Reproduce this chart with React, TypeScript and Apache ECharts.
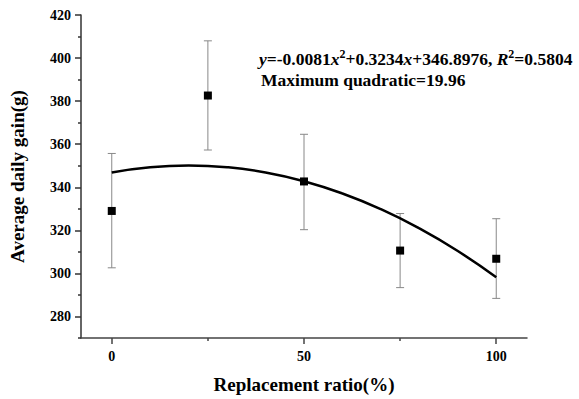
import React, { useEffect, useRef } from "react";
import * as echarts from "echarts";

const ratios = [0, 25, 50, 75, 100];
const gainMeans = [329.0, 382.6, 342.7, 310.6, 306.8];
const gainLow = [302.6, 357.3, 320.3, 293.4, 288.4];
const gainHigh = [355.7, 408.0, 364.6, 327.8, 325.4];

const fitX = [0, 10, 20, 30, 40, 50, 60, 70, 80, 90, 100];
const fitY = [346.9, 349.3, 350.1, 349.3, 346.9, 342.8, 337.1, 329.8, 320.9, 310.4, 298.2];

const xMajorTicks = [0, 50, 100];
const xMinorTicks = [25, 75];
const yMajorTicks = [280, 300, 320, 340, 360, 380, 400, 420];
const yMinorTicks = [270, 290, 310, 330, 350, 370, 390, 410];

const FONT = "Times New Roman, Liberation Serif, Tinos, DejaVu Serif, serif";

export default function App() {
  const ref = useRef<HTMLDivElement>(null);
  useEffect(() => {
    if (!ref.current) return;
    const chart = echarts.init(ref.current, null, { renderer: "svg" });
    const axisColor = "#333";
    const base = { fontFamily: FONT, fontWeight: "bold", color: "#000" };
    chart.setOption({
      animation: false,
      backgroundColor: "#fff",
      textStyle: { fontFamily: FONT },
      grid: { left: 81, right: 52, top: 15, bottom: 57, containLabel: false },
      xAxis: [
        {
          type: "value",
          min: -8,
          max: 108,
          name: "Replacement ratio(%)",
          nameLocation: "middle",
          nameGap: 37,
          nameTextStyle: { ...base, fontSize: 19 },
          axisLine: { show: true, onZero: false, lineStyle: { color: "#444", width: 1.5 } },
          axisTick: { show: true, customValues: xMajorTicks, length: 6, lineStyle: { color: "#444", width: 1.5 } },
          axisLabel: { ...base, customValues: xMajorTicks, fontSize: 14, margin: 11 },
          splitLine: { show: false },
        },
        {
          type: "value",
          min: -8,
          max: 108,
          position: "bottom",
          axisLine: { show: false, onZero: false },
          axisTick: { show: true, customValues: xMinorTicks, length: 3, lineStyle: { color: "#444", width: 1.5 } },
          axisLabel: { show: false },
          splitLine: { show: false },
        },
      ],
      yAxis: [
        {
          type: "value",
          min: 270,
          max: 420,
          name: "Average daily gain(g)",
          nameLocation: "middle",
          nameGap: 54,
          nameRotate: 90,
          nameTextStyle: { ...base, fontSize: 19 },
          axisLine: { show: true, onZero: false, lineStyle: { color: axisColor, width: 1.5 } },
          axisTick: { show: true, customValues: yMajorTicks, length: 6, lineStyle: { color: axisColor, width: 1.5 } },
          axisLabel: { ...base, customValues: yMajorTicks, fontSize: 14, margin: 10 },
          splitLine: { show: false },
        },
        {
          type: "value",
          min: 270,
          max: 420,
          position: "left",
          axisLine: { show: false, onZero: false },
          axisTick: { show: true, customValues: yMinorTicks, length: 3, lineStyle: { color: axisColor, width: 1.5 } },
          axisLabel: { show: false },
          splitLine: { show: false },
        },
      ],
      series: [
        {
          type: "custom",
          xAxisIndex: 0,
          yAxisIndex: 0,
          data: ratios.map((x, i) => [x, gainLow[i], gainHigh[i]]),
          renderItem: (params: any, api: any) => {
            const x = api.value(0);
            const lo = api.coord([x, api.value(1)]);
            const hi = api.coord([x, api.value(2)]);
            const w = 4;
            const style = { stroke: "#888", lineWidth: 1 };
            return {
              type: "group",
              children: [
                { type: "line", shape: { x1: lo[0], y1: lo[1], x2: hi[0], y2: hi[1] }, style },
                { type: "line", shape: { x1: lo[0] - w, y1: lo[1], x2: lo[0] + w, y2: lo[1] }, style },
                { type: "line", shape: { x1: hi[0] - w, y1: hi[1], x2: hi[0] + w, y2: hi[1] }, style },
              ],
            };
          },
          z: 1,
        },
        {
          type: "line",
          xAxisIndex: 0,
          yAxisIndex: 0,
          data: fitX.map((x, i) => [x, fitY[i]]),
          smooth: true,
          showSymbol: false,
          lineStyle: { color: "#000", width: 2.5 },
          z: 2,
        },
        {
          type: "scatter",
          xAxisIndex: 0,
          yAxisIndex: 0,
          data: ratios.map((x, i) => [x, gainMeans[i]]),
          symbol: "rect",
          symbolSize: 8,
          itemStyle: { color: "#000", opacity: 1 },
          z: 3,
        },
      ],
      graphic: [
        {
          type: "text",
          left: 259,
          top: 48,
          style: {
            text: "{i|y}{n|=-0.0081}{i|x}{s|2}{n|+0.3234}{i|x}{n|+346.8976, }{i|R}{s|2}{n|=0.5804}",
            font: "bold 17.5px " + FONT,
            rich: {
              n: { fontFamily: FONT, fontWeight: "bold", fontSize: 17.5, fill: "#000", lineHeight: 20, verticalAlign: "bottom" },
              i: { fontFamily: FONT, fontWeight: "bold", fontStyle: "italic", fontSize: 17.5, fill: "#000", lineHeight: 20, verticalAlign: "bottom" },
              s: { fontFamily: FONT, fontWeight: "bold", fontSize: 12, fill: "#000", lineHeight: 20, verticalAlign: "top" },
            },
          },
        },
        {
          type: "text",
          left: 261,
          top: 71,
          style: {
            text: "Maximum quadratic=19.96",
            font: "bold 17.5px " + FONT,
            fill: "#000",
          },
        },
      ],
    });
    return () => chart.dispose();
  }, []);
  return <div ref={ref} style={{ width: 579, height: 399, position: "absolute", left: 0, top: 0 }} />;
}
